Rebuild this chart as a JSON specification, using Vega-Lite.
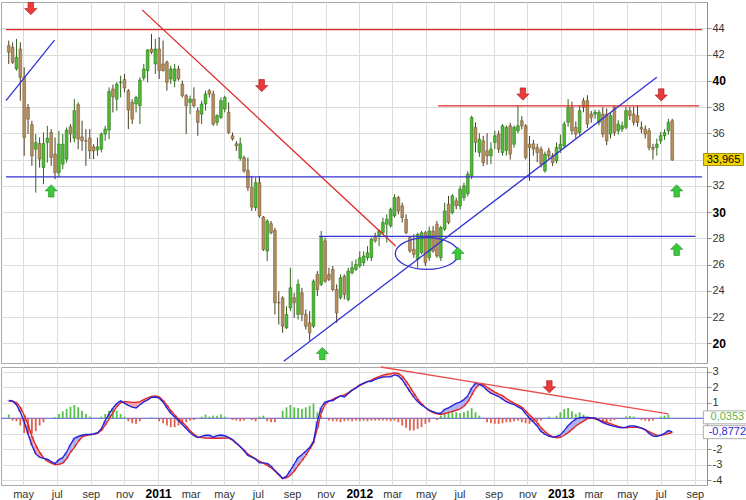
{
"$schema": "https://vega.github.io/schema/vega-lite/v6.json",
"padding": 0,
"background": "white",
"spacing": 4,
"bounds": "flush",
"config": {
  "font": "Liberation Sans",
  "view": {"stroke": "#a8a8a8"},
  "concat": {"spacing": 4},
  "axis": {"gridColor": "#dcdcdc", "domainColor": "#909090", "tickColor": "#909090", "labelColor": "#333333", "labelFont": "Liberation Sans", "labelFontSize": 11, "labelOverlap": false},
  "axisY": {"labelOverlap": false}
},
"datasets": {
"w": [
{"d":"2010-04-05","o":42.68,"h":43.06,"l":41.28,"c":42.17,"m":1.15,"s":1.11,"g":0.24},
{"d":"2010-04-12","o":42.55,"h":42.93,"l":41.28,"c":41.41,"m":1.12,"s":1.09,"g":-0.15},
{"d":"2010-04-19","o":40.9,"h":43.19,"l":40.77,"c":41.79,"m":0.88,"s":1.02,"g":-0.2},
{"d":"2010-04-26","o":42.42,"h":42.93,"l":38.48,"c":40.26,"m":0.4,"s":0.7,"g":-0.47},
{"d":"2010-05-03","o":40.26,"h":41.03,"l":34.28,"c":35.68,"m":-0.22,"s":0.2,"g":-0.96},
{"d":"2010-05-10","o":37.97,"h":38.23,"l":35.94,"c":37.08,"m":-1.0,"s":-0.41,"g":-1.05},
{"d":"2010-05-17","o":36.65,"h":36.95,"l":33.52,"c":34.28,"m":-1.74,"s":-1.16,"g":-1.0},
{"d":"2010-05-24","o":34.79,"h":35.94,"l":31.48,"c":35.3,"m":-2.3,"s":-1.76,"g":-0.83},
{"d":"2010-05-31","o":35.22,"h":35.68,"l":33.39,"c":34.03,"m":-2.52,"s":-2.2,"g":-0.47},
{"d":"2010-06-07","o":33.39,"h":36.06,"l":32.12,"c":35.22,"m":-2.6,"s":-2.55,"g":-0.26},
{"d":"2010-06-14","o":35.3,"h":36.57,"l":33.77,"c":35.63,"m":-2.65,"s":-2.77,"g":0},
{"d":"2010-06-21","o":36.06,"h":36.32,"l":33.52,"c":34.16,"m":-2.8,"s":-2.9,"g":0.02},
{"d":"2010-06-28","o":34.41,"h":35.68,"l":32.5,"c":33.0,"m":-2.93,"s":-3.0,"g":0.06},
{"d":"2010-07-05","o":33.0,"h":36.19,"l":32.63,"c":35.17,"m":-2.68,"s":-2.98,"g":0.28},
{"d":"2010-07-12","o":33.65,"h":35.94,"l":33.27,"c":35.17,"m":-2.55,"s":-2.9,"g":0.45},
{"d":"2010-07-19","o":34.03,"h":36.45,"l":33.77,"c":36.24,"m":-2.2,"s":-2.62,"g":0.6},
{"d":"2010-07-26","o":36.5,"h":36.7,"l":35.3,"c":35.94,"m":-1.7,"s":-2.2,"g":0.75},
{"d":"2010-08-02","o":35.63,"h":38.6,"l":35.3,"c":37.72,"m":-1.3,"s":-1.88,"g":0.86},
{"d":"2010-08-09","o":38.18,"h":38.35,"l":34.79,"c":35.56,"m":-1.18,"s":-1.5,"g":0.71},
{"d":"2010-08-16","o":35.73,"h":36.95,"l":34.66,"c":35.43,"m":-1.1,"s":-1.21,"g":0.49},
{"d":"2010-08-23","o":35.43,"h":36.32,"l":33.52,"c":35.4,"m":-1.05,"s":-1.12,"g":0.28},
{"d":"2010-08-30","o":35.63,"h":36.32,"l":34.03,"c":34.66,"m":-1.05,"s":-1.07,"g":0.11},
{"d":"2010-09-06","o":34.97,"h":35.17,"l":34.03,"c":34.66,"m":-1.02,"s":-1.03,"g":0.03},
{"d":"2010-09-13","o":34.72,"h":35.68,"l":34.28,"c":34.97,"m":-0.93,"s":-0.98,"g":0.03},
{"d":"2010-09-20","o":34.79,"h":36.06,"l":34.54,"c":35.94,"m":-0.69,"s":-0.79,"g":0.11},
{"d":"2010-09-27","o":35.94,"h":36.57,"l":35.43,"c":36.32,"m":-0.15,"s":-0.45,"g":0.28},
{"d":"2010-10-04","o":36.24,"h":39.5,"l":35.56,"c":39.19,"m":0.27,"s":-0.05,"g":0.49},
{"d":"2010-10-11","o":39.37,"h":39.7,"l":37.59,"c":38.78,"m":0.65,"s":0.37,"g":0.54},
{"d":"2010-10-18","o":38.6,"h":39.88,"l":37.72,"c":39.75,"m":0.95,"s":0.75,"g":0.49},
{"d":"2010-10-25","o":39.85,"h":40.39,"l":38.73,"c":39.9,"m":1.13,"s":1.0,"g":0.28},
{"d":"2010-11-01","o":40.09,"h":40.52,"l":39.12,"c":39.45,"m":0.98,"s":1.08,"g":0.11},
{"d":"2010-11-08","o":39.24,"h":39.37,"l":36.32,"c":37.77,"m":0.83,"s":1.06,"g":-0.19},
{"d":"2010-11-15","o":38.35,"h":38.6,"l":36.7,"c":37.08,"m":0.72,"s":1.03,"g":-0.32},
{"d":"2010-11-22","o":38.23,"h":38.86,"l":37.59,"c":38.73,"m":0.67,"s":1.03,"g":-0.36},
{"d":"2010-11-29","o":38.1,"h":40.26,"l":36.7,"c":40.06,"m":0.88,"s":1.08,"g":-0.19},
{"d":"2010-12-06","o":40.21,"h":41.28,"l":40.01,"c":40.9,"m":1.06,"s":1.2,"g":-0.02},
{"d":"2010-12-13","o":40.77,"h":42.4,"l":39.88,"c":42.35,"m":1.19,"s":1.32,"g":0.02},
{"d":"2010-12-20","o":42.42,"h":43.57,"l":42.04,"c":42.17,"m":1.35,"s":1.42,"g":0.06},
{"d":"2010-12-27","o":41.28,"h":43.19,"l":40.52,"c":42.42,"m":1.38,"s":1.45,"g":0},
{"d":"2011-01-03","o":42.42,"h":43.32,"l":40.14,"c":40.77,"m":1.3,"s":1.38,"g":-0.19},
{"d":"2011-01-10","o":41.28,"h":43.06,"l":40.7,"c":40.77,"m":1.06,"s":1.16,"g":-0.32},
{"d":"2011-01-17","o":41.41,"h":41.54,"l":39.24,"c":39.88,"m":0.67,"s":0.85,"g":-0.47},
{"d":"2011-01-24","o":40.14,"h":41.15,"l":39.75,"c":40.9,"m":0.33,"s":0.5,"g":-0.58},
{"d":"2011-01-31","o":40.01,"h":41.28,"l":39.5,"c":40.9,"m":0.1,"s":0.22,"g":-0.58},
{"d":"2011-02-07","o":40.9,"h":41.15,"l":40.01,"c":40.14,"m":-0.15,"s":-0.04,"g":-0.47},
{"d":"2011-02-14","o":39.75,"h":40.01,"l":38.73,"c":38.86,"m":-0.4,"s":-0.26,"g":-0.32},
{"d":"2011-02-21","o":38.86,"h":38.99,"l":35.94,"c":38.1,"m":-0.66,"s":-0.5,"g":-0.26},
{"d":"2011-02-28","o":38.35,"h":38.86,"l":37.46,"c":38.6,"m":-0.92,"s":-0.8,"g":-0.15},
{"d":"2011-03-07","o":38.6,"h":39.5,"l":37.97,"c":38.1,"m":-1.13,"s":-1.04,"g":-0.11},
{"d":"2011-03-14","o":37.72,"h":37.97,"l":35.81,"c":36.83,"m":-1.25,"s":-1.2,"g":0.02},
{"d":"2011-03-21","o":37.46,"h":38.48,"l":36.7,"c":38.23,"m":-1.17,"s":-1.25,"g":0.11},
{"d":"2011-03-28","o":38.23,"h":39.24,"l":37.72,"c":38.99,"m":-1.1,"s":-1.28,"g":0.24},
{"d":"2011-04-04","o":39.24,"h":39.37,"l":38.73,"c":38.99,"m":-1.09,"s":-1.29,"g":0.11},
{"d":"2011-04-11","o":38.99,"h":39.24,"l":36.57,"c":36.7,"m":-1.22,"s":-1.29,"g":0.17},
{"d":"2011-04-18","o":36.83,"h":37.46,"l":36.57,"c":37.34,"m":-1.12,"s":-1.29,"g":0.17},
{"d":"2011-04-25","o":37.21,"h":38.73,"l":37.08,"c":38.48,"m":-1.08,"s":-1.29,"g":0.24},
{"d":"2011-05-02","o":37.84,"h":38.86,"l":37.59,"c":38.73,"m":-1.13,"s":-1.28,"g":0.11},
{"d":"2011-05-09","o":37.59,"h":38.35,"l":35.95,"c":36.06,"m":-1.23,"s":-1.27,"g":0.02},
{"d":"2011-05-16","o":35.81,"h":36.06,"l":35.45,"c":35.56,"m":-1.38,"s":-1.42,"g":-0.11},
{"d":"2011-05-23","o":35.2,"h":35.4,"l":34.66,"c":35.05,"m":-1.6,"s":-1.63,"g":-0.15},
{"d":"2011-05-30","o":34.1,"h":35.68,"l":33.9,"c":35.2,"m":-1.83,"s":-1.84,"g":-0.19},
{"d":"2011-06-06","o":34.15,"h":34.3,"l":33.0,"c":33.13,"m":-2.1,"s":-2.05,"g":-0.15},
{"d":"2011-06-13","o":33.18,"h":34.15,"l":31.6,"c":31.86,"m":-2.4,"s":-2.32,"g":-0.02},
{"d":"2011-06-20","o":31.86,"h":32.75,"l":30.08,"c":30.38,"m":-2.51,"s":-2.48,"g":-0.11},
{"d":"2011-06-27","o":30.33,"h":32.62,"l":30.08,"c":32.24,"m":-2.65,"s":-2.62,"g":-0.19},
{"d":"2011-07-04","o":32.24,"h":32.75,"l":29.57,"c":29.7,"m":-2.89,"s":-2.78,"g":0.11},
{"d":"2011-07-11","o":29.62,"h":29.7,"l":27.03,"c":27.15,"m":-2.89,"s":-2.91,"g":0.17},
{"d":"2011-07-18","o":27.03,"h":29.45,"l":26.26,"c":29.32,"m":-2.92,"s":-3.05,"g":-0.19},
{"d":"2011-07-25","o":29.11,"h":29.32,"l":28.3,"c":28.43,"m":-3.1,"s":-3.2,"g":-0.26},
{"d":"2011-08-01","o":28.6,"h":28.8,"l":22.19,"c":23.08,"m":-3.39,"s":-3.42,"g":-0.26},
{"d":"2011-08-08","o":23.1,"h":23.97,"l":21.43,"c":23.08,"m":-3.62,"s":-3.68,"g":-0.02},
{"d":"2011-08-15","o":23.46,"h":23.59,"l":20.8,"c":21.3,"m":-3.9,"s":-3.9,"g":0.49},
{"d":"2011-08-22","o":21.17,"h":22.83,"l":21.1,"c":22.2,"m":-3.75,"s":-3.86,"g":0.71},
{"d":"2011-08-29","o":22.7,"h":25.76,"l":22.45,"c":24.23,"m":-3.38,"s":-3.68,"g":0.86},
{"d":"2011-09-05","o":23.47,"h":23.85,"l":21.94,"c":23.09,"m":-2.97,"s":-3.41,"g":0.71},
{"d":"2011-09-12","o":22.2,"h":24.87,"l":21.81,"c":24.49,"m":-2.55,"s":-3.07,"g":0.66},
{"d":"2011-09-19","o":23.85,"h":24.23,"l":21.69,"c":22.2,"m":-2.36,"s":-2.74,"g":0.6},
{"d":"2011-09-26","o":22.2,"h":22.58,"l":21.05,"c":21.3,"m":-2.13,"s":-2.4,"g":0.71},
{"d":"2011-10-03","o":21.56,"h":22.45,"l":20.2,"c":20.8,"m":-1.9,"s":-2.0,"g":0.81},
{"d":"2011-10-10","o":21.3,"h":24.87,"l":21.17,"c":24.74,"m":-1.5,"s":-1.6,"g":0.96},
{"d":"2011-10-17","o":25.25,"h":25.5,"l":23.6,"c":24.1,"m":-0.2,"s":-0.65,"g":0.39},
{"d":"2011-10-24","o":24.49,"h":28.56,"l":24.36,"c":28.05,"m":0.7,"s":0.35,"g":0.17},
{"d":"2011-10-31","o":27.8,"h":28.05,"l":24.61,"c":24.74,"m":1.05,"s":0.9,"g":0.02},
{"d":"2011-11-07","o":25.25,"h":25.76,"l":24.74,"c":24.87,"m":1.12,"s":1.1,"g":-0.15},
{"d":"2011-11-14","o":25.63,"h":25.89,"l":23.97,"c":24.1,"m":1.15,"s":1.22,"g":-0.19},
{"d":"2011-11-21","o":24.1,"h":24.49,"l":21.56,"c":22.32,"m":1.31,"s":1.36,"g":-0.19},
{"d":"2011-11-28","o":23.47,"h":25.25,"l":23.34,"c":25.0,"m":1.45,"s":1.45,"g":-0.26},
{"d":"2011-12-05","o":25.12,"h":25.25,"l":23.34,"c":23.72,"m":1.38,"s":1.52,"g":-0.19},
{"d":"2011-12-12","o":23.34,"h":25.76,"l":23.2,"c":25.5,"m":1.6,"s":1.65,"g":-0.15},
{"d":"2011-12-19","o":25.38,"h":26.26,"l":25.25,"c":25.76,"m":1.82,"s":1.82,"g":-0.19},
{"d":"2011-12-26","o":25.63,"h":26.4,"l":25.5,"c":26.01,"m":1.95,"s":1.99,"g":-0.15},
{"d":"2012-01-02","o":25.89,"h":27.0,"l":25.76,"c":26.52,"m":2.16,"s":2.12,"g":-0.19},
{"d":"2012-01-09","o":26.14,"h":27.0,"l":25.89,"c":26.65,"m":2.28,"s":2.25,"g":-0.15},
{"d":"2012-01-16","o":26.52,"h":27.4,"l":26.3,"c":26.9,"m":2.38,"s":2.38,"g":-0.19},
{"d":"2012-01-23","o":26.52,"h":28.05,"l":26.27,"c":27.92,"m":2.39,"s":2.47,"g":-0.15},
{"d":"2012-01-30","o":28.18,"h":28.43,"l":27.67,"c":27.8,"m":2.52,"s":2.6,"g":-0.15},
{"d":"2012-02-06","o":28.18,"h":28.69,"l":27.4,"c":28.56,"m":2.6,"s":2.7,"g":-0.15},
{"d":"2012-02-13","o":28.43,"h":29.58,"l":28.3,"c":29.2,"m":2.67,"s":2.79,"g":-0.15},
{"d":"2012-02-20","o":29.07,"h":29.83,"l":27.67,"c":29.45,"m":2.68,"s":2.85,"g":-0.15},
{"d":"2012-02-27","o":28.94,"h":30.34,"l":28.81,"c":30.21,"m":2.68,"s":2.89,"g":-0.19},
{"d":"2012-03-05","o":29.7,"h":31.36,"l":29.58,"c":31.1,"m":2.81,"s":2.94,"g":-0.15},
{"d":"2012-03-12","o":31.1,"h":31.23,"l":29.83,"c":30.08,"m":2.74,"s":2.9,"g":-0.26},
{"d":"2012-03-19","o":30.47,"h":30.72,"l":29.2,"c":29.58,"m":2.5,"s":2.72,"g":-0.47},
{"d":"2012-03-26","o":29.45,"h":29.83,"l":28.3,"c":28.43,"m":2.12,"s":2.4,"g":-0.62},
{"d":"2012-04-02","o":28.05,"h":28.18,"l":26.9,"c":27.03,"m":1.72,"s":2.03,"g":-0.79},
{"d":"2012-04-09","o":27.16,"h":28.3,"l":26.52,"c":26.78,"m":1.37,"s":1.62,"g":-0.79},
{"d":"2012-04-16","o":26.39,"h":28.43,"l":25.76,"c":28.3,"m":1.08,"s":1.25,"g":-0.69},
{"d":"2012-04-23","o":26.9,"h":28.56,"l":26.78,"c":28.43,"m":0.86,"s":0.95,"g":-0.58},
{"d":"2012-04-30","o":28.43,"h":28.56,"l":25.89,"c":26.14,"m":0.7,"s":0.7,"g":-0.36},
{"d":"2012-05-07","o":26.52,"h":28.9,"l":26.27,"c":28.56,"m":0.53,"s":0.5,"g":-0.26},
{"d":"2012-05-14","o":28.56,"h":28.94,"l":26.9,"c":27.03,"m":0.43,"s":0.37,"g":0},
{"d":"2012-05-21","o":29.07,"h":29.32,"l":26.52,"c":26.65,"m":0.33,"s":0.29,"g":-0.11},
{"d":"2012-05-28","o":26.52,"h":28.94,"l":26.27,"c":28.81,"m":0.33,"s":0.25,"g":0.17},
{"d":"2012-06-04","o":28.69,"h":30.72,"l":28.56,"c":30.08,"m":0.58,"s":0.31,"g":0.32},
{"d":"2012-06-11","o":30.6,"h":31.23,"l":29.07,"c":29.2,"m":0.68,"s":0.37,"g":0.39},
{"d":"2012-06-18","o":29.96,"h":31.36,"l":29.83,"c":31.23,"m":0.82,"s":0.44,"g":0.39},
{"d":"2012-06-25","o":30.85,"h":31.1,"l":30.2,"c":30.47,"m":0.96,"s":0.52,"g":0.39},
{"d":"2012-07-02","o":30.47,"h":32.0,"l":30.2,"c":31.74,"m":1.05,"s":0.61,"g":0.32},
{"d":"2012-07-09","o":31.1,"h":32.24,"l":30.85,"c":32.0,"m":1.21,"s":0.78,"g":0.39},
{"d":"2012-07-16","o":31.4,"h":33.1,"l":31.2,"c":32.9,"m":1.45,"s":1.07,"g":0.49},
{"d":"2012-07-23","o":32.76,"h":37.34,"l":32.5,"c":37.21,"m":1.95,"s":1.5,"g":0.66},
{"d":"2012-07-30","o":36.45,"h":36.83,"l":34.54,"c":35.3,"m":2.26,"s":1.95,"g":0.39},
{"d":"2012-08-06","o":34.54,"h":36.0,"l":34.2,"c":35.55,"m":2.2,"s":2.19,"g":0.17},
{"d":"2012-08-13","o":35.43,"h":35.8,"l":33.5,"c":33.77,"m":2.07,"s":2.19,"g":0},
{"d":"2012-08-20","o":34.66,"h":36.0,"l":33.6,"c":34.28,"m":1.81,"s":2.01,"g":-0.26},
{"d":"2012-08-27","o":34.28,"h":35.3,"l":33.65,"c":34.79,"m":1.63,"s":1.85,"g":-0.32},
{"d":"2012-09-03","o":35.3,"h":36.2,"l":34.8,"c":35.81,"m":1.51,"s":1.7,"g":-0.36},
{"d":"2012-09-10","o":35.94,"h":36.2,"l":34.5,"c":34.79,"m":1.41,"s":1.57,"g":-0.36},
{"d":"2012-09-17","o":34.54,"h":36.7,"l":34.3,"c":36.57,"m":1.24,"s":1.46,"g":-0.32},
{"d":"2012-09-24","o":34.7,"h":36.6,"l":34.3,"c":36.45,"m":1.07,"s":1.28,"g":-0.26},
{"d":"2012-10-01","o":36.57,"h":36.8,"l":34.0,"c":34.41,"m":0.97,"s":1.12,"g":-0.26},
{"d":"2012-10-08","o":35.17,"h":36.6,"l":34.9,"c":36.45,"m":0.89,"s":0.98,"g":-0.19},
{"d":"2012-10-15","o":36.19,"h":38.1,"l":36.0,"c":36.57,"m":0.73,"s":0.85,"g":-0.15},
{"d":"2012-10-22","o":36.95,"h":37.3,"l":36.3,"c":36.57,"m":0.61,"s":0.72,"g":-0.26},
{"d":"2012-10-29","o":36.57,"h":36.7,"l":34.0,"c":34.16,"m":0.3,"s":0.48,"g":-0.32},
{"d":"2012-11-05","o":35.17,"h":35.8,"l":32.37,"c":34.92,"m":0.0,"s":0.22,"g":-0.36},
{"d":"2012-11-12","o":35.2,"h":35.5,"l":34.3,"c":34.8,"m":-0.24,"s":-0.02,"g":-0.26},
{"d":"2012-11-19","o":34.92,"h":35.2,"l":33.8,"c":34.54,"m":-0.5,"s":-0.28,"g":-0.19},
{"d":"2012-11-26","o":34.79,"h":35.0,"l":33.4,"c":33.65,"m":-0.85,"s":-0.62,"g":-0.15},
{"d":"2012-12-03","o":33.14,"h":34.6,"l":33.0,"c":34.41,"m":-1.03,"s":-0.86,"g":0},
{"d":"2012-12-10","o":34.66,"h":34.9,"l":34.0,"c":34.28,"m":-1.15,"s":-1.06,"g":0.11},
{"d":"2012-12-17","o":34.28,"h":34.5,"l":33.5,"c":33.77,"m":-1.22,"s":-1.2,"g":0},
{"d":"2012-12-24","o":33.9,"h":35.3,"l":33.7,"c":34.92,"m":-1.18,"s":-1.26,"g":0.17},
{"d":"2012-12-31","o":34.8,"h":35.9,"l":34.5,"c":35.17,"m":-1.08,"s":-1.23,"g":0.39},
{"d":"2013-01-07","o":35.05,"h":36.9,"l":34.9,"c":36.7,"m":-0.8,"s":-1.1,"g":0.6},
{"d":"2013-01-14","o":36.83,"h":38.6,"l":36.5,"c":37.97,"m":-0.48,"s":-0.93,"g":0.66},
{"d":"2013-01-21","o":37.97,"h":38.4,"l":35.9,"c":36.19,"m":-0.24,"s":-0.72,"g":0.45},
{"d":"2013-01-28","o":36.45,"h":36.9,"l":35.6,"c":35.94,"m":-0.06,"s":-0.5,"g":0.28},
{"d":"2013-02-04","o":36.06,"h":38.1,"l":35.8,"c":37.72,"m":0.04,"s":-0.33,"g":0.39},
{"d":"2013-02-11","o":38.48,"h":38.7,"l":37.6,"c":37.97,"m":0.06,"s":-0.18,"g":0.24},
{"d":"2013-02-18","o":38.48,"h":38.9,"l":36.4,"c":36.7,"m":0.06,"s":-0.03,"g":0.11},
{"d":"2013-02-25","o":37.46,"h":37.7,"l":36.8,"c":37.21,"m":0.02,"s":0.02,"g":0.02},
{"d":"2013-03-04","o":37.46,"h":37.8,"l":37.1,"c":37.6,"m":0.02,"s":-0.03,"g":0},
{"d":"2013-03-11","o":36.83,"h":37.8,"l":36.6,"c":37.59,"m":-0.12,"s":-0.13,"g":-0.11},
{"d":"2013-03-18","o":37.46,"h":38.0,"l":35.7,"c":35.94,"m":-0.28,"s":-0.19,"g":-0.19},
{"d":"2013-03-25","o":37.46,"h":37.9,"l":35.1,"c":35.43,"m":-0.38,"s":-0.27,"g":-0.26},
{"d":"2013-04-01","o":35.94,"h":37.6,"l":35.6,"c":37.34,"m":-0.46,"s":-0.35,"g":-0.19},
{"d":"2013-04-08","o":37.97,"h":38.1,"l":35.8,"c":36.06,"m":-0.52,"s":-0.44,"g":-0.11},
{"d":"2013-04-15","o":36.19,"h":37.0,"l":35.9,"c":36.7,"m":-0.58,"s":-0.52,"g":0},
{"d":"2013-04-22","o":36.32,"h":36.9,"l":36.1,"c":36.57,"m":-0.61,"s":-0.59,"g":0.02},
{"d":"2013-04-29","o":36.45,"h":38.0,"l":36.3,"c":37.72,"m":-0.58,"s":-0.62,"g":0.11},
{"d":"2013-05-06","o":37.72,"h":38.0,"l":37.0,"c":37.34,"m":-0.49,"s":-0.59,"g":0.15},
{"d":"2013-05-13","o":37.46,"h":38.0,"l":36.6,"c":36.83,"m":-0.49,"s":-0.58,"g":0.11},
{"d":"2013-05-20","o":37.34,"h":38.1,"l":36.5,"c":36.83,"m":-0.55,"s":-0.59,"g":0},
{"d":"2013-05-27","o":36.45,"h":36.9,"l":36.0,"c":36.32,"m":-0.64,"s":-0.63,"g":-0.11},
{"d":"2013-06-03","o":36.32,"h":36.6,"l":35.6,"c":35.94,"m":-0.74,"s":-0.75,"g":-0.15},
{"d":"2013-06-10","o":36.19,"h":36.4,"l":34.7,"c":34.92,"m":-0.98,"s":-0.86,"g":-0.19},
{"d":"2013-06-17","o":34.92,"h":35.2,"l":34.0,"c":34.79,"m":-1.15,"s":-0.99,"g":-0.15},
{"d":"2013-06-24","o":34.92,"h":35.6,"l":34.3,"c":35.17,"m":-1.16,"s":-1.11,"g":0},
{"d":"2013-07-01","o":35.43,"h":36.1,"l":35.2,"c":35.81,"m":-1.1,"s":-1.11,"g":0.11},
{"d":"2013-07-08","o":35.81,"h":36.3,"l":35.5,"c":36.06,"m":-0.98,"s":-1.06,"g":0.17},
{"d":"2013-07-15","o":36.19,"h":37.1,"l":35.9,"c":36.83,"m":-0.8,"s":-0.99,"g":0.24},
{"d":"2013-07-22","o":36.95,"h":37.1,"l":33.9,"c":33.965,"m":-0.88,"s":-0.92,"g":0.035}
],
"ann": [
{"id":"a","t":"res","d":"2010-03-31","p":43.9},{"id":"a","t":"res","d":"2013-09-14","p":43.9},
{"id":"b","t":"sup","d":"2010-03-31","p":38.48},{"id":"b","t":"sup","d":"2010-06-27","p":43.1},
{"id":"c","t":"res","d":"2010-12-03","p":45.4},{"id":"c","t":"res","d":"2012-03-07","p":27.41},
{"id":"e","t":"sup","d":"2010-03-31","p":32.68},{"id":"e","t":"sup","d":"2013-09-14","p":32.68},
{"id":"f","t":"res","d":"2012-05-23","p":38.08},{"id":"f","t":"res","d":"2013-09-09","p":38.08},
{"id":"g","t":"sup","d":"2011-08-17","p":18.63},{"id":"g","t":"sup","d":"2013-06-24","p":40.26},
{"id":"h","t":"sup","d":"2011-10-20","p":28.15},{"id":"h","t":"sup","d":"2013-09-02","p":28.15}
],
"arr": [
{"t":"sell","d":"2010-05-15","p":45.5},
{"t":"sell","d":"2011-07-08","p":39.63},
{"t":"sell","d":"2012-10-24","p":38.99},
{"t":"sell","d":"2013-07-02","p":38.92},
{"t":"buy","d":"2010-06-21","p":31.61},
{"t":"buy","d":"2011-10-26","p":19.22},
{"t":"buy","d":"2012-06-28","p":26.85},
{"t":"buy","d":"2013-07-30","p":31.61},
{"t":"buy","d":"2013-07-30","p":27.16}
],
"ell": [{"d":"2012-05-03","p":26.84}],
"last": [{"d":"2013-10-23","p":34.0,"label":"33,965"}],
"mtl": [{"d":"2012-02-09","v":3.32},{"d":"2013-07-15","v":0.28}],
"marr": [{"t":"sell","d":"2012-12-11","v":2.04}],
"mlab": [{"t":"hist","d":"2013-10-30","v":0.06,"label":"0,0353"},{"t":"macd","d":"2013-10-30","v":-0.9,"label":"-0,8772"}]
},
"vconcat": [
{
 "width": 706, "height": 361,
 "resolve": {"axis": {"x": "independent", "y": "independent"}},
 "layer": [
  {"data": {"name": "w"},
   "mark": {"type": "rule", "strokeWidth": 1, "clip": true},
   "encoding": {
     "x": {"field": "d", "type": "temporal",
       "scale": {"domain": [{"year": 2010, "month": 3, "date": 31}, {"year": 2013, "month": 9, "date": 14}]},
       "axis": {"title": null, "labels": false, "ticks": false, "domain": false, "grid": true, "tickCount": {"interval": "month", "step": 2}, "minExtent": 0, "maxExtent": 0}},
     "y": {"field": "l", "type": "quantitative",
       "scale": {"domain": [18.5, 46.0], "zero": false, "nice": false},
       "axis": {"title": null, "orient": "right", "values": [20,22,24,26,28,30,32,34,36,38,40,42,44],
         "labelOverlap": false,
         "labelExpr": "datum.value==34 ? '' : datum.label",
         "labelFontWeight": {"condition": {"test": "datum.value % 10 == 0", "value": "bold"}, "value": "normal"},
         "labelFontSize": {"condition": {"test": "datum.value % 10 == 0", "value": 12}, "value": 11},
         "labelColor": {"condition": {"test": "datum.value % 10 == 0", "value": "#000000"}, "value": "#333333"},
         "tickSize": 4, "labelPadding": 1, "grid": true}},
     "y2": {"field": "h"},
     "color": {"condition": {"test": "datum.c >= datum.o", "value": "#2e6a1c"}, "value": "#4a3d22"}
   }},
  {"data": {"name": "w"},
   "mark": {"type": "bar", "size": 2.8, "strokeWidth": 0.5, "clip": true},
   "encoding": {
     "x": {"field": "d", "type": "temporal", "axis": null},
     "y": {"field": "o", "type": "quantitative", "axis": null},
     "y2": {"field": "c"},
     "fill": {"condition": {"test": "datum.c >= datum.o", "value": "#4cbc30"}, "value": "#b48e5c"},
     "stroke": {"condition": {"test": "datum.c >= datum.o", "value": "#2a6418"}, "value": "#6a4e26"}
   }},
  {"data": {"name": "ann"},
   "mark": {"type": "line", "strokeWidth": 1.3, "clip": true},
   "encoding": {
     "x": {"field": "d", "type": "temporal", "axis": null},
     "y": {"field": "p", "type": "quantitative", "axis": null},
     "detail": {"field": "id"},
     "color": {"field": "t", "type": "nominal", "scale": {"domain": ["res", "sup"], "range": ["#e02828", "#3232d2"]}, "legend": null}
   }},
  {"data": {"name": "ell"},
   "mark": {"type": "point", "shape": "M-1,0A1,0.5,0,1,0,1,0A1,0.5,0,1,0,-1,0", "size": 4020, "filled": false, "stroke": "#3232d2", "strokeWidth": 1.3, "opacity": 1},
   "encoding": {
     "x": {"field": "d", "type": "temporal", "axis": null},
     "y": {"field": "p", "type": "quantitative", "axis": null}
   }},
  {"data": {"name": "arr"},
   "mark": {"type": "point", "size": 150, "filled": true, "opacity": 1, "strokeWidth": 0.6},
   "encoding": {
     "x": {"field": "d", "type": "temporal", "axis": null},
     "y": {"field": "p", "type": "quantitative", "axis": null},
     "shape": {"field": "t", "type": "nominal", "scale": {"domain": ["sell", "buy"], "range": ["M-0.45,-1L0.45,-1L0.45,0L1,0L0,1L-1,0L-0.45,0Z", "M-0.45,1L0.45,1L0.45,0L1,0L0,-1L-1,0L-0.45,0Z"]}, "legend": null},
     "fill": {"field": "t", "type": "nominal", "scale": {"domain": ["sell", "buy"], "range": ["#ec3a3a", "#3cc83c"]}, "legend": null},
     "stroke": {"field": "t", "type": "nominal", "scale": {"domain": ["sell", "buy"], "range": ["#a01818", "#1c8a1c"]}, "legend": null}
   }},
  {"data": {"name": "last"},
   "mark": {"type": "point", "shape": "M-1,-0.3L1,-0.3L1,0.3L-1,0.3Z", "size": 1600, "filled": true, "fill": "#f2d400", "stroke": "#8a7a00", "strokeWidth": 0.8, "opacity": 1},
   "encoding": {
     "x": {"field": "d", "type": "temporal", "axis": null},
     "y": {"field": "p", "type": "quantitative", "axis": null}
   }},
  {"data": {"name": "last"},
   "mark": {"type": "text", "fontSize": 11, "color": "#000000", "align": "center", "baseline": "middle", "font": "Liberation Sans"},
   "encoding": {
     "x": {"field": "d", "type": "temporal", "axis": null},
     "y": {"field": "p", "type": "quantitative", "axis": null},
     "text": {"field": "label"}
   }}
 ]
},
{
 "width": 706, "height": 118,
 "resolve": {"axis": {"x": "independent", "y": "independent"}},
 "layer": [
  {"data": {"name": "w"},
   "mark": {"type": "bar", "size": 4},
   "encoding": {
     "x": {"field": "d", "type": "temporal",
       "scale": {"domain": [{"year": 2010, "month": 3, "date": 31}, {"year": 2013, "month": 9, "date": 14}]},
       "axis": {"title": null, "orient": "bottom", "tickCount": {"interval": "month", "step": 2}, "ticks": false, "domain": false, "grid": true,
         "labelPadding": 3, "labelFlush": false, "labelOverlap": false,
         "labelExpr": "month(datum.value)==0 ? timeFormat(datum.value, '%Y') : lower(timeFormat(datum.value, '%b'))",
         "labelFontWeight": {"condition": {"test": "month(datum.value)==0", "value": "bold"}, "value": "normal"},
         "labelFontSize": {"condition": {"test": "month(datum.value)==0", "value": 12}, "value": 11},
         "labelColor": {"condition": {"test": "month(datum.value)==0", "value": "#000000"}, "value": "#333333"}}},
     "y": {"field": "m", "type": "quantitative",
       "scale": {"domain": [-4.32, 3.32], "zero": false, "nice": false},
       "axis": {"title": null, "orient": "right", "values": [-4,-3,-2,-1,0,1,2,3], "labelOverlap": false,
         "labelExpr": "datum.value==0 || datum.value==-1 ? '' : (datum.value < 0 ? '-' + abs(datum.value) : datum.label)",
         "tickSize": 4, "labelPadding": 1, "grid": true}},
     "y2": {"field": "s"},
     "color": {"condition": {"test": "datum.m >= datum.s", "value": "#b0b0f4"}, "value": "#f4a4a4"}
   }},
  {"data": {"values": [{}]},
   "mark": {"type": "rule", "color": "#5a5ad8", "strokeWidth": 1},
   "encoding": {"y": {"datum": 0, "type": "quantitative", "axis": null}}},
  {"data": {"name": "w"},
   "mark": {"type": "bar", "size": 1.8},
   "encoding": {
     "x": {"field": "d", "type": "temporal", "axis": null},
     "y": {"field": "g", "type": "quantitative", "axis": null},
     "y2": {"datum": 0},
     "color": {"condition": {"test": "datum.g >= 0", "value": "#58c04c"}, "value": "#e06050"}
   }},
  {"data": {"name": "w"},
   "mark": {"type": "line", "color": "#e02828", "strokeWidth": 1.4},
   "encoding": {
     "x": {"field": "d", "type": "temporal", "axis": null},
     "y": {"field": "s", "type": "quantitative", "axis": null}
   }},
  {"data": {"name": "w"},
   "mark": {"type": "line", "color": "#2424d8", "strokeWidth": 1.4},
   "encoding": {
     "x": {"field": "d", "type": "temporal", "axis": null},
     "y": {"field": "m", "type": "quantitative", "axis": null}
   }},
  {"data": {"name": "mtl"},
   "mark": {"type": "line", "color": "#e85050", "strokeWidth": 1.3},
   "encoding": {
     "x": {"field": "d", "type": "temporal", "axis": null},
     "y": {"field": "v", "type": "quantitative", "axis": null}
   }},
  {"data": {"name": "marr"},
   "mark": {"type": "point", "shape": "M-0.45,-1L0.45,-1L0.45,0L1,0L0,1L-1,0L-0.45,0Z", "size": 150, "filled": true, "fill": "#ec3a3a", "stroke": "#a01818", "strokeWidth": 0.6, "opacity": 1},
   "encoding": {
     "x": {"field": "d", "type": "temporal", "axis": null},
     "y": {"field": "v", "type": "quantitative", "axis": null}
   }},
  {"data": {"name": "mlab"},
   "mark": {"type": "point", "shape": "M-1,-0.27L1,-0.27L1,0.27L-1,0.27Z", "size": 2304, "filled": true, "fill": "#ffffff", "stroke": "#9a9a9a", "strokeWidth": 0.8, "opacity": 1},
   "encoding": {
     "x": {"field": "d", "type": "temporal", "axis": null},
     "y": {"field": "v", "type": "quantitative", "axis": null}
   }},
  {"data": {"name": "mlab"},
   "mark": {"type": "text", "fontSize": 11, "align": "center", "baseline": "middle", "font": "Liberation Sans"},
   "encoding": {
     "x": {"field": "d", "type": "temporal", "axis": null},
     "y": {"field": "v", "type": "quantitative", "axis": null},
     "text": {"field": "label"},
     "color": {"condition": {"test": "datum.t == 'hist'", "value": "#5cb84a"}, "value": "#2a2ad0"}
   }}
 ]
}
]
}
